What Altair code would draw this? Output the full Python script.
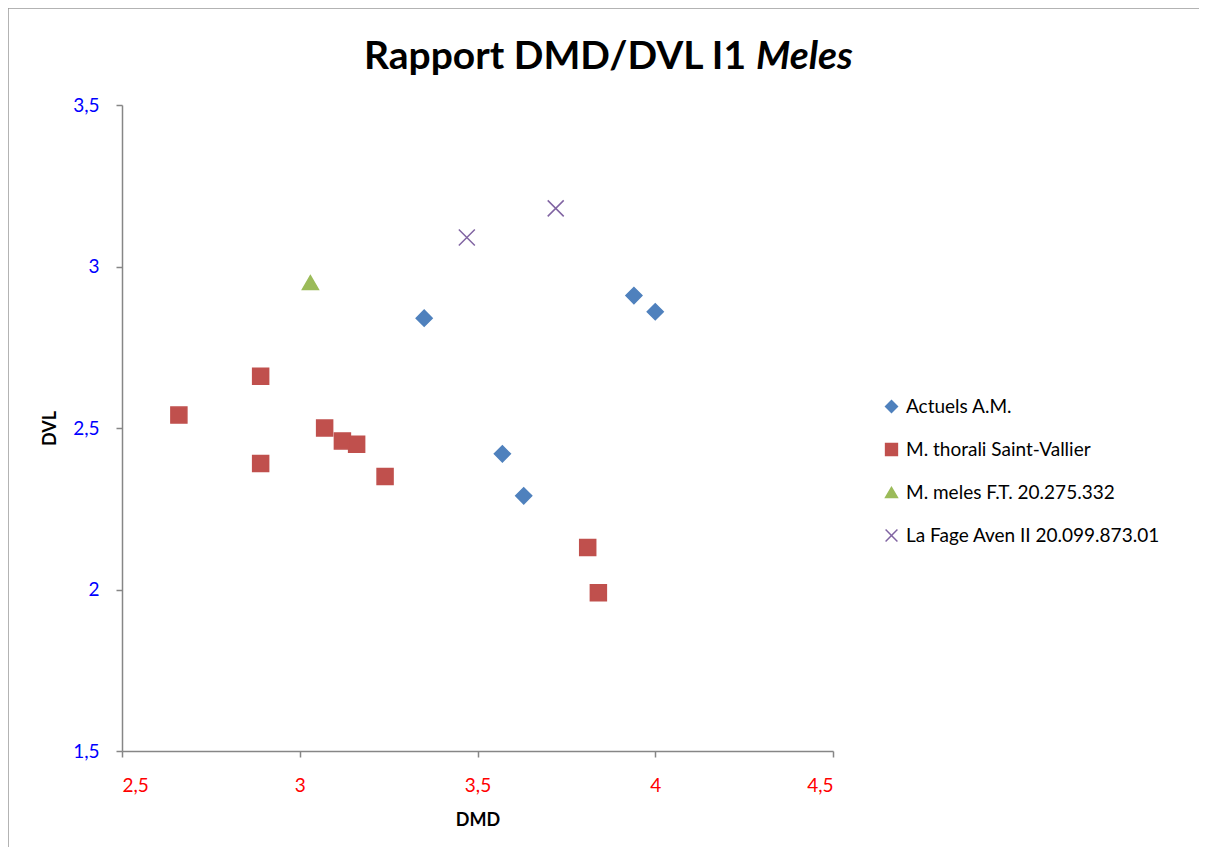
import altair as alt
import pandas as pd

# ---- data ----
series_names = ["Actuels A.M.", "M. thorali Saint-Vallier", "M. meles F.T. 20.275.332",
                "La Fage Aven II 20.099.873.01"]

actuels_x = [3.35, 3.94, 4.00, 3.57, 3.63]
actuels_y = [2.84, 2.91, 2.86, 2.42, 2.29]

thorali_x = [2.66, 2.89, 2.89, 3.07, 3.12, 3.16, 3.24, 3.81, 3.84]
thorali_y = [2.54, 2.66, 2.39, 2.50, 2.46, 2.45, 2.35, 2.13, 1.99]

meles_x = [3.03]
meles_y = [2.95]

fage_x = [3.47, 3.72]
fage_y = [3.09, 3.18]

x_ticks = [2.5, 3, 3.5, 4, 4.5]
y_ticks = [1.5, 2, 2.5, 3, 3.5]

colors = ["#4F81BD", "#C0504D", "#9BBB59", "#8064A2"]
fills = ["#4F81BD", "#C0504D", "#9BBB59", "transparent"]
shapes = ["diamond", "square", "triangle-up", "M-1,-1L1,1M-1,1L1,-1"]

rows = []
for name, xs, ys in zip(series_names,
                        [actuels_x, thorali_x, meles_x, fage_x],
                        [actuels_y, thorali_y, meles_y, fage_y]):
    for xv, yv in zip(xs, ys):
        rows.append({"DMD": xv, "DVL": yv, "serie": name})
df = pd.DataFrame(rows)

FONT = "Lato"
W, H = 711, 646

legend = alt.Legend(
    title=None, orient="none", legendX=760, legendY=292,
    labelFont=FONT, labelFontSize=19, labelColor="black", labelLimit=0,
    symbolSize=140, symbolStrokeWidth=1.5, rowPadding=23, labelOffset=5,
)

points = alt.Chart(df).mark_point(size=256, strokeWidth=1.5, opacity=1).encode(
    x=alt.X("DMD:Q",
            scale=alt.Scale(domain=[2.5, 4.5], nice=False, zero=False),
            axis=alt.Axis(values=x_ticks, title="DMD",
                          labelExpr="replace(toString(datum.value), '.', ',')",
                          labelColor="#FF0000", labelFont=FONT, labelFontSize=19,
                          labelPadding=19, tickSize=6,
                          titleFont=FONT, titleFontSize=18, titleFontWeight="bold",
                          titleY=69, titleBaseline="middle")),
    y=alt.Y("DVL:Q",
            scale=alt.Scale(domain=[1.5, 3.5], nice=False, zero=False),
            axis=alt.Axis(values=y_ticks, title="DVL",
                          labelExpr="replace(toString(datum.value), '.', ',')",
                          labelColor="#0000FF", labelFont=FONT, labelFontSize=19,
                          labelPadding=17, tickSize=6,
                          titleFont=FONT, titleFontSize=18, titleFontWeight="bold",
                          titleX=-72, titleY=H / 2, titleBaseline="middle")),
    shape=alt.Shape("serie:N", scale=alt.Scale(domain=series_names, range=shapes), legend=legend),
    color=alt.Color("serie:N", scale=alt.Scale(domain=series_names, range=colors), legend=legend),
    fill=alt.Fill("serie:N", scale=alt.Scale(domain=series_names, range=fills), legend=legend),
)

one = alt.Data(values=[{"a": 1}])

title1 = alt.Chart(one).mark_text(
    text="Rapport DMD/DVL I1", font=FONT, fontSize=39, fontWeight="bold",
    align="right", baseline="alphabetic", color="black"
).encode(x=alt.value(624), y=alt.value(-36))

title2 = alt.Chart(one).mark_text(
    text="Meles", font=FONT, fontSize=39, fontWeight="bold", fontStyle="italic",
    align="left", baseline="alphabetic", color="black"
).encode(x=alt.value(634), y=alt.value(-36))

frame_left = alt.Chart(one).mark_rule(color="#9a9a9a", strokeWidth=1.5).encode(
    x=alt.value(-114), y=alt.value(-97), y2=alt.value(H + 110))
frame_top = alt.Chart(one).mark_rule(color="#9a9a9a", strokeWidth=1.5).encode(
    x=alt.value(-114), x2=alt.value(1100), y=alt.value(-97))

chart = alt.layer(frame_left, frame_top, points, title1, title2).properties(
    width=W, height=H,
    autosize=alt.AutoSizeParams(type="none"),
    padding={"left": 114, "top": 97, "right": 366, "bottom": 96},
).configure_view(stroke=None).configure_axis(
    grid=False, domainColor="#868686", tickColor="#868686",
    domainWidth=1.5, tickWidth=1.5,
)

chart.save("out.html", embed_options={"renderer": "svg", "actions": False})
